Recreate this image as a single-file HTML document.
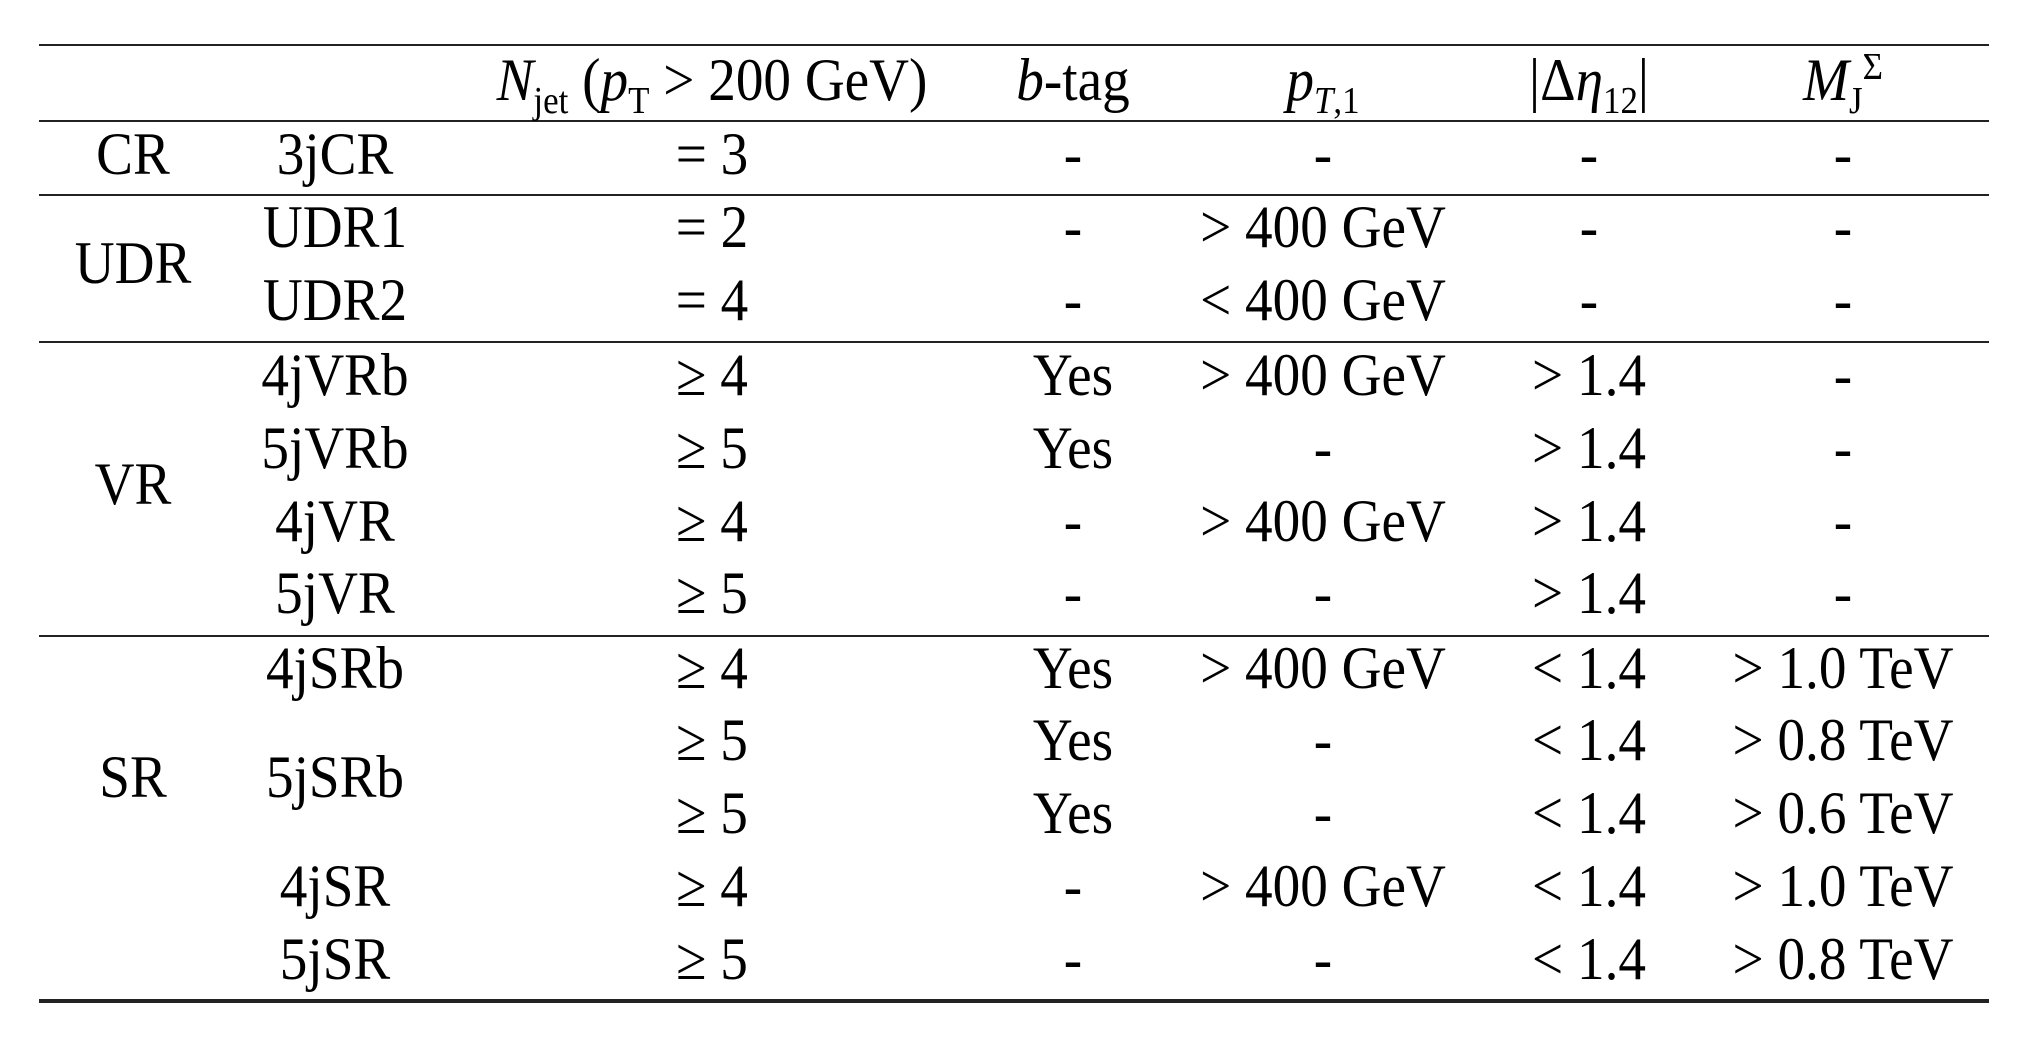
<!DOCTYPE html>
<html><head><meta charset="utf-8"><style>
body{margin:0;width:2027px;height:1050px;background:#fff;position:relative;overflow:hidden;font-family:"Liberation Serif",serif;color:#000}
.l{position:absolute;left:39px;width:1950px;background:#222}
.c{position:absolute;font-size:60px;line-height:60px;white-space:nowrap;transform:translate(-50%,-53%) scaleX(0.92)}
i{font-style:italic}
sub,sup{font-size:38px;line-height:0}
</style></head><body>
<div class="l" style="top:44px;height:2px"></div>
<div class="l" style="top:120px;height:2px"></div>
<div class="l" style="top:194px;height:2px"></div>
<div class="l" style="top:341px;height:2px"></div>
<div class="l" style="top:635px;height:2px"></div>
<div class="l" style="top:999px;height:4px"></div>
<div id="t"></div>
<script>
const cols=[133,335,712,1073,1323,1589,1843];
const hdr=['','','<i>N</i><sub>jet</sub> (<i>p</i><sub>T</sub> &gt; 200 GeV)','<i>b</i>-tag','<i>p</i><sub><i>T</i>,1</sub>','|Δ<i>η</i><sub>12</sub>|','<i>M</i><sub>J</sub><sup>Σ</sup>'];
const rowsY=[156,229,302,377,450,523,595,670,742,815,888,961];
const rows=[
['','3jCR','= 3','-','-','-','-'],
['','UDR1','= 2','-','&gt; 400 GeV','-','-'],
['','UDR2','= 4','-','&lt; 400 GeV','-','-'],
['','4jVRb','≥ 4','Yes','&gt; 400 GeV','&gt; 1.4','-'],
['','5jVRb','≥ 5','Yes','-','&gt; 1.4','-'],
['','4jVR','≥ 4','-','&gt; 400 GeV','&gt; 1.4','-'],
['','5jVR','≥ 5','-','-','&gt; 1.4','-'],
['','4jSRb','≥ 4','Yes','&gt; 400 GeV','&lt; 1.4','&gt; 1.0 TeV'],
['','','≥ 5','Yes','-','&lt; 1.4','&gt; 0.8 TeV'],
['','','≥ 5','Yes','-','&lt; 1.4','&gt; 0.6 TeV'],
['','4jSR','≥ 4','-','&gt; 400 GeV','&lt; 1.4','&gt; 1.0 TeV'],
['','5jSR','≥ 5','-','-','&lt; 1.4','&gt; 0.8 TeV']];
const groups=[['CR',156],['UDR',265],['VR',486],['SR',779],['5jSRb',779,1]];
const t=document.getElementById('t');
function add(html,x,y,name){const d=document.createElement('div');d.className='c';d.style.left=x+'px';d.style.top=y+'px';d.innerHTML=html;


t.appendChild(d);}
hdr.forEach((h,i)=>{if(h)add(h,cols[i],82,'header-cell');});
rows.forEach((r,ri)=>r.forEach((v,ci)=>{if(v)add(v,cols[ci],rowsY[ri],'table-cell');}));
groups.forEach(g=>add(g[0],g[2]?cols[1]:cols[0],g[1],'region-label'));
</script>
</body></html>
